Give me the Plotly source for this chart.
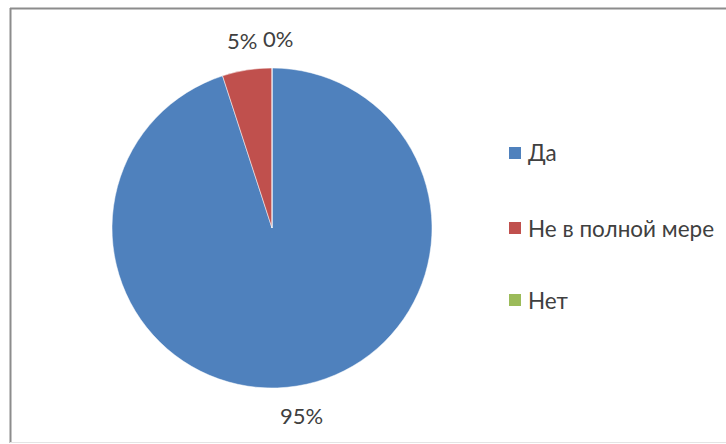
import math
import plotly.graph_objects as go

labels = ["Да", "Не в полной мере", "Нет"]
values = [95, 5, 0]
colors = ["#4F81BD", "#C0504D", "#9BBB59"]

W, H = 726, 444
cx, cy, R = 272, 228, 160
FONT = "Lato"
TXT = "#404040"

fig = go.Figure()
fig.add_trace(go.Pie(
    labels=labels, values=values, sort=False, direction="clockwise", rotation=0,
    marker=dict(colors=colors, line=dict(color="white", width=0.5)),
    textinfo="none", hoverinfo="label+percent", showlegend=False,
    domain=dict(x=[(cx - R) / W, (cx + R) / W], y=[1 - (cy + R) / H, 1 - (cy - R) / H]),
))

annotations = []
total = sum(values)
cum = 0.0
r_lab = R + 30
for lab, v in zip(labels, values):
    frac = v / total
    mid = (cum + frac / 2) * 2 * math.pi
    cum += frac
    px = cx + r_lab * math.sin(mid)
    py = cy - r_lab * math.cos(mid)
    if v == 0:
        px += 6
    annotations.append(dict(
        x=px / W, y=1 - py / H, xref="paper", yref="paper",
        text=f"{round(frac * 100)}%", showarrow=False,
        font=dict(family=FONT, size=22, color=TXT),
        xanchor="center", yanchor="middle",
    ))

shapes = []
leg_y = [153, 228, 300]
for lab, col, ly in zip(labels, colors, leg_y):
    shapes.append(dict(type="rect", xref="paper", yref="paper",
                       x0=509 / W, x1=521 / W, y0=1 - (ly + 6) / H, y1=1 - (ly - 6) / H,
                       fillcolor=col, line=dict(width=0)))
    annotations.append(dict(
        x=526 / W, y=1 - ly / H, xref="paper", yref="paper", text=lab,
        showarrow=False, xanchor="left", yanchor="middle",
        font=dict(family=FONT, size=22.5, color=TXT),
    ))

# chart frame: dark top/left edges, faint bottom edge
frame = "#8C8C8C"
shapes.append(dict(type="line", xref="paper", yref="paper",
                   x0=10 / W, x1=1, y0=1 - 8.5 / H, y1=1 - 8.5 / H,
                   line=dict(color=frame, width=2)))
shapes.append(dict(type="line", xref="paper", yref="paper",
                   x0=10.5 / W, x1=10.5 / W, y0=1 - 443 / H, y1=1 - 8 / H,
                   line=dict(color=frame, width=2)))
shapes.append(dict(type="line", xref="paper", yref="paper",
                   x0=10 / W, x1=1, y0=1 - 442.5 / H, y1=1 - 442.5 / H,
                   line=dict(color="#E4E4E4", width=1)))

fig.update_layout(
    width=W, height=H, margin=dict(l=0, r=0, t=0, b=0),
    paper_bgcolor="white", plot_bgcolor="white",
    annotations=annotations, shapes=shapes,
)
fig.write_html(
    "out.html",
    config={"displayModeBar": False},
    post_script="document.body.style.margin='0';document.body.style.overflow='hidden';",
)
